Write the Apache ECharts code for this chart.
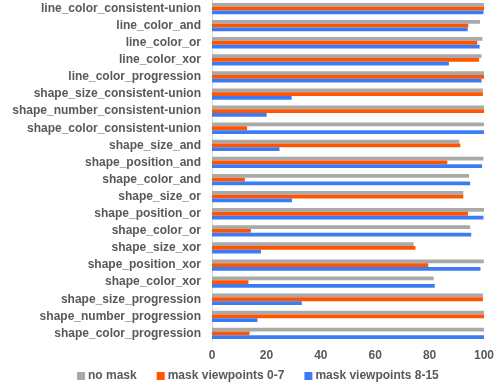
<!DOCTYPE html>
<html>
<head>
<meta charset="utf-8">
<script src="https://cdn.jsdelivr.net/npm/echarts@6/dist/echarts.min.js"></script>
<style>
  html, body { margin: 0; padding: 0; background: #fff; }
  #chart { width: 498px; height: 388px; }
</style>
</head>
<body>
<div id="chart"></div>
<script>
const categories = [
  'line_color_consistent-union', 'line_color_and', 'line_color_or', 'line_color_xor',
  'line_color_progression', 'shape_size_consistent-union', 'shape_number_consistent-union',
  'shape_color_consistent-union', 'shape_size_and', 'shape_position_and', 'shape_color_and',
  'shape_size_or', 'shape_position_or', 'shape_color_or', 'shape_size_xor',
  'shape_position_xor', 'shape_color_xor', 'shape_size_progression',
  'shape_number_progression', 'shape_color_progression'
]
const noMask = [100, 98.5, 99.4, 99.1, 100, 99.6, 100, 100, 90.9, 99.8, 94.5, 92.4, 100, 94.9, 74.1, 99.9, 81.5, 99.6, 100, 100]
const mask0to7 = [100, 94.2, 97.5, 98.2, 100, 99.6, 100, 12.9, 91.3, 86.5, 12.1, 92.4, 94.1, 14.3, 74.8, 79.5, 13.4, 99.6, 100, 13.8]
const mask8to15 = [99.8, 94.0, 98.4, 87.1, 99.1, 29.3, 20.1, 100, 24.8, 99.3, 94.9, 29.4, 99.8, 95.3, 18.0, 98.7, 81.9, 33.0, 16.7, 100]

const font = 'Liberation Sans, Arial, sans-serif'

const mkSeries = (name, data, color) => ({
  name,
  type: 'bar',
  data,
  barGap: '0%',
  barCategoryGap: '34%',
  itemStyle: { color },
  animation: false
})

const chart = echarts.init(document.getElementById('chart'))
chart.setOption({
  animation: false,
  grid: { left: 212, right: 14, top: 0, bottom: 46, containLabel: false },
  legend: {
    bottom: 1,
    left: 72,
    itemWidth: 8,
    itemHeight: 8,
    itemGap: 20,
    icon: 'rect',
    textStyle: { fontFamily: font, fontWeight: 'bold', fontSize: 12, color: '#595959', padding: [0, 0, 0, -2] }
  },
  xAxis: {
    type: 'value',
    min: 0,
    max: 100,
    interval: 20,
    axisLine: { show: false },
    axisTick: { show: false },
    splitLine: { show: false },
    axisLabel: { fontFamily: font, fontWeight: 'bold', fontSize: 12, color: '#595959', margin: 8 }
  },
  yAxis: {
    type: 'category',
    data: categories,
    inverse: true,
    axisLine: { show: true, lineStyle: { color: '#d9d9d9' } },
    axisTick: { show: false },
    axisLabel: { fontFamily: font, fontWeight: 'bold', fontSize: 12, color: '#595959', margin: 11 }
  },
  series: [
    mkSeries('no mask', noMask, '#a9a9a9'),
    mkSeries('mask viewpoints 0-7', mask0to7, '#ff5500'),
    mkSeries('mask viewpoints 8-15', mask8to15, '#3b7cf6')
  ]
})
</script>
</body>
</html>
